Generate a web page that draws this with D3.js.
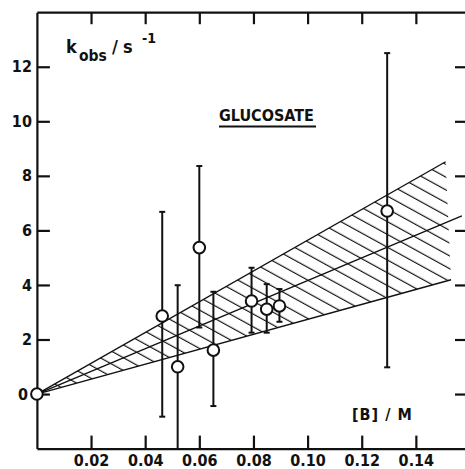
<!DOCTYPE html>
<html>
<head>
<meta charset="utf-8">
<script src="https://cdn.jsdelivr.net/npm/d3@7"></script>
<style>
  html, body { margin: 0; padding: 0; background: #fff; }
  svg { display: block; }
  text { font-family: 'DejaVu Sans Condensed', 'DejaVu Sans', sans-serif; fill: #111; }
</style>
</head>
<body>
<svg id="chart" width="465" height="469"></svg>
<script>
// ---- data ----
const concB   = [0, 0.0463, 0.052, 0.060, 0.0652, 0.0793, 0.0849, 0.0896, 0.1294];
const kobs    = [0, 2.86, 1.0, 5.37, 1.61, 3.41, 3.11, 3.23, 6.71];
const errHigh = [null, 6.68, 3.99, 8.36, 3.75, 4.63, 4.03, 3.85, 12.5];
const errLow  = [null, -0.83, -2.0, 2.44, -0.44, 2.25, 2.25, 2.65, 0.98];

// hatched confidence wedge: slopes (s^-1 per M) and extent
const slopeUpper = 56.4;
const slopeMid   = 41.6;
const slopeLower = 27.4;
const wedgeEndUpper = 0.151;
const wedgeEndLower = 0.153;
const midEnd = 0.157;

const xTicks = [0.02, 0.04, 0.06, 0.08, 0.10, 0.12, 0.14];
const yTicks = [0, 2, 4, 6, 8, 10, 12];

const xDomain = [0, 0.16];
const yDomain = [-2, 14];

// ---- layout ----
const svg = d3.select('#chart');
const x = d3.scaleLinear().domain(xDomain).range([36.9, 470]);
const y = d3.scaleLinear().domain(yDomain).range([448.6, 12.2]);

const ink = '#111';
const font = "'DejaVu Sans Condensed', 'DejaVu Sans', sans-serif";

// hatch pattern
const defs = svg.append('defs');
const pat = defs.append('pattern')
  .attr('id', 'hatch')
  .attr('patternUnits', 'userSpaceOnUse')
  .attr('width', 40).attr('height', 11.2)
  .attr('patternTransform', 'translate(0,3) rotate(28.8)');
pat.append('line')
  .attr('x1', -5).attr('x2', 45).attr('y1', 5).attr('y2', 5)
  .attr('stroke', ink).attr('stroke-width', 1.3);

const wedge = [
  [0, 0],
  [wedgeEndUpper, slopeUpper * wedgeEndUpper],
  [wedgeEndLower, slopeLower * wedgeEndLower]
];
svg.append('path')
  .attr('d', 'M' + wedge.map(p => [x(p[0]), y(p[1])].join(',')).join('L') + 'Z')
  .attr('fill', 'url(#hatch)')
  .attr('stroke', 'none');

const bandLines = [
  [slopeUpper, wedgeEndUpper],
  [slopeMid, midEnd],
  [slopeLower, wedgeEndLower]
];
svg.append('g').selectAll('line').data(bandLines).join('line')
  .attr('x1', x(0)).attr('y1', y(0))
  .attr('x2', d => x(d[1])).attr('y2', d => y(d[0] * d[1]))
  .attr('stroke', ink).attr('stroke-width', 1.4);

// ---- axes (frame with inward ticks) ----
function styleAxis(g) {
  g.select('.domain').attr('stroke', ink).attr('stroke-width', 2.2);
  g.selectAll('.tick line').attr('stroke', ink).attr('stroke-width', 2.2);
  g.selectAll('.tick text').attr('fill', ink)
    .style('font-family', font)
    .style('font-size', '16px').style('font-weight', 'bold');
}

svg.append('g').attr('transform', `translate(0,${y(yDomain[0])})`)
  .call(d3.axisBottom(x).tickValues(xTicks).tickSizeInner(-13).tickSizeOuter(0)
        .tickPadding(6).tickFormat(d3.format('.2f')))
  .call(styleAxis);

svg.append('g').attr('transform', `translate(0,${y(yDomain[1])})`)
  .call(d3.axisTop(x).tickValues(xTicks).tickSizeInner(-12).tickSizeOuter(0).tickFormat(''))
  .call(styleAxis);

const yAxisG = svg.append('g').attr('transform', `translate(${x(xDomain[0])},0)`)
  .call(d3.axisLeft(y).tickValues(yTicks).tickSizeInner(-13).tickSizeOuter(0)
        .tickPadding(5).tickFormat(d3.format('d')))
  .call(styleAxis);
yAxisG.selectAll('.tick text').filter(d => d === 0).attr('dx', -4);

svg.append('g').attr('transform', `translate(${x(xDomain[1])},0)`)
  .call(d3.axisRight(y).tickValues(yTicks).tickSizeInner(-15).tickSizeOuter(0).tickFormat(''))
  .call(styleAxis);

// ---- error bars ----
const pts = concB.map((c, i) => ({ c, k: kobs[i], hi: errHigh[i], lo: errLow[i] }));
const eb = svg.append('g').selectAll('g').data(pts.filter(d => d.hi !== null)).join('g');
eb.append('line')
  .attr('x1', d => x(d.c)).attr('x2', d => x(d.c))
  .attr('y1', d => y(d.hi)).attr('y2', d => y(d.lo))
  .attr('stroke', ink).attr('stroke-width', 2);
eb.append('line')
  .attr('x1', d => x(d.c) - 3).attr('x2', d => x(d.c) + 3)
  .attr('y1', d => y(d.hi)).attr('y2', d => y(d.hi))
  .attr('stroke', ink).attr('stroke-width', 2);
eb.filter(d => d.lo > yDomain[0]).append('line')
  .attr('x1', d => x(d.c) - 3).attr('x2', d => x(d.c) + 3)
  .attr('y1', d => y(d.lo)).attr('y2', d => y(d.lo))
  .attr('stroke', ink).attr('stroke-width', 2);

// ---- points ----
svg.append('g').selectAll('circle').data(pts).join('circle')
  .attr('cx', d => x(d.c)).attr('cy', d => y(d.k)).attr('r', 5.8)
  .attr('fill', '#fff').attr('stroke', ink).attr('stroke-width', 2);

// ---- labels ----
const kLab = svg.append('g').style('font-family', font).style('font-weight', 'bold');
kLab.append('text').attr('x', 66).attr('y', 53).style('font-size', '18px').text('k');
kLab.append('text').attr('x', 79).attr('y', 61).style('font-size', '15.5px').text('obs');
kLab.append('text').attr('x', 112).attr('y', 53).style('font-size', '18px').text('/');
kLab.append('text').attr('x', 123).attr('y', 53).style('font-size', '18px').text('s');
kLab.append('text').attr('x', 142).attr('y', 43).style('font-size', '14px').text('-1');

svg.append('text').attr('x', 219).attr('y', 121)
  .style('font-size', '16px').style('font-weight', 'bold')
  .text('GLUCOSATE');
svg.append('line').attr('x1', 219).attr('x2', 316).attr('y1', 126.5).attr('y2', 126.5)
  .attr('stroke', ink).attr('stroke-width', 1.8);

svg.append('text').attr('x', 352).attr('y', 420)
  .style('font-size', '16px').style('font-weight', 'bold')
  .style('letter-spacing', '1px')
  .text('[B] / M');
</script>
</body>
</html>
